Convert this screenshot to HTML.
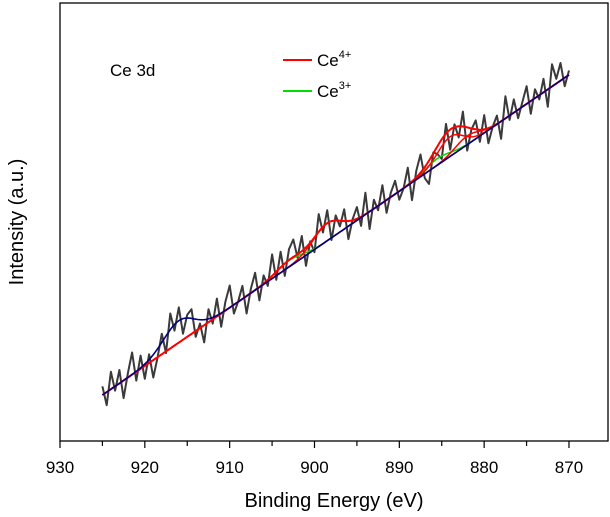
<!DOCTYPE html>
<html><head><meta charset="utf-8">
<style>
html,body{margin:0;padding:0;background:#fff;}
svg{display:block;font-family:"Liberation Sans",Arial,sans-serif;}
</style></head>
<body>
<svg id="chart" width="610" height="517" viewBox="0 0 610 517">
  <rect x="60" y="3" width="548" height="438" fill="none" stroke="#000" stroke-width="1.3"/>
  <g id="xticks"></g>
  <g id="series"></g>
  <text x="110" y="76" font-size="17">Ce 3d</text>
  <line x1="283" y1="60" x2="312" y2="60" stroke="#ff0000" stroke-width="2"/>
  <text x="317" y="66" font-size="17">Ce<tspan font-size="11" dy="-8">4+</tspan></text>
  <line x1="283" y1="91" x2="312" y2="91" stroke="#00dd00" stroke-width="2"/>
  <text x="317" y="97" font-size="17">Ce<tspan font-size="11" dy="-8">3+</tspan></text>
  <text x="334" y="507" font-size="20" text-anchor="middle">Binding Energy (eV)</text>
  <text transform="translate(23,222) rotate(-90)" font-size="20" text-anchor="middle">Intensity (a.u.)</text>
</svg>
<script>
const tickLabels = [930, 920, 910, 900, 890, 880, 870];
const rawStart = 925, rawStep = 0.5;
const rawValues = [12.5,8.2,15.8,11.5,16.2,9.8,15.5,20.2,13.8,19.5,14.2,19.8,14.5,19.1,24.5,20.1,29.1,25.2,30.5,24.5,28.8,30.1,23.8,26.8,22.5,30.1,26.8,32.5,26.1,31.8,35.5,29.1,31.8,35.4,29.1,34.8,38.4,32.1,37.8,35.4,42.6,36.8,43.2,37.7,43.8,46.0,41.9,46.8,40.0,45.6,43.1,51.8,47.6,52.7,45.9,51.5,49.0,52.9,46.1,50.7,53.4,49.1,56.7,48.4,55.1,52.7,58.4,52.1,56.7,59.4,55.1,57.7,62.4,55.0,61.7,65.4,60.0,58.7,65.9,65.5,64.4,72.4,66.5,72.3,69.3,75.2,66.3,71.1,73.2,68.3,74.4,68.0,71.7,74.3,69.0,78.7,73.3,78.0,73.7,77.3,81.0,74.7,80.3,78.0,82.7,76.3,86.0,82.7,86.3,81.0,84.6];
const bgEnergies = [925, 870];
const bgValues = [10.5, 83.6];
const ce3Centers = [916, 903, 885.5];
const ce3Heights = [5, 1.5, 1.5];
const ce3Widths = [1.8, 1.5, 1.5];
const ce4Centers = [898.5, 884, 882];
const ce4Heights = [4, 4.5, 2];
const ce4Widths = [1.6, 1.5, 1.4];

const X0=60, PX_PER_EV=8.483;
function xs(e){return X0+(930-e)*PX_PER_EV;}
function ys(v){return 441-v*4.38;}
function bg(e){return bgValues[0]+(bgValues[1]-bgValues[0])*(e-bgEnergies[0])/(bgEnergies[1]-bgEnergies[0]);}
function gauss(e,c,h,w){return h*Math.exp(-((e-c)*(e-c))/(2*w*w));}
const NS="http://www.w3.org/2000/svg";
const xt=document.getElementById('xticks');
for(let e=930;e>=865;e-=5){
  const l=document.createElementNS(NS,'line');
  l.setAttribute('x1',xs(e));l.setAttribute('x2',xs(e));
  l.setAttribute('y1',441);l.setAttribute('y2',e%10===0?448:446);
  l.setAttribute('stroke','#000');l.setAttribute('stroke-width','1.2');
  
  
  xt.appendChild(l);
}
tickLabels.forEach(t=>{
  const tx=document.createElementNS(NS,'text');
  tx.setAttribute('x',xs(t));tx.setAttribute('y',473);
  tx.setAttribute('font-size','17');tx.setAttribute('text-anchor','middle');
  tx.textContent=t;
  
  
  xt.appendChild(tx);
});
const sg=document.getElementById('series');
function addPath(d,color,w,name){
  const p=document.createElementNS(NS,'path');
  p.setAttribute('d',d);p.setAttribute('fill','none');
  p.setAttribute('stroke',color);p.setAttribute('stroke-width',w);
  p.setAttribute('stroke-linejoin','round');
  
  
  sg.appendChild(p);
}
let d='';
rawValues.forEach((v,i)=>{const e=rawStart-i*rawStep;d+=(i?'L':'M')+xs(e).toFixed(1)+','+ys(v).toFixed(1);});
addPath(d,'#3a3a3a',2,'raw-spectrum');
function curve(fn){let s='';for(let e=925;e>=870;e-=0.25){s+=(e===925?'M':'L')+xs(e).toFixed(1)+','+ys(fn(e)).toFixed(1);}return s;}
ce3Centers.forEach((c,i)=>{
  if(i===0)return;
  addPath(curve(e=>bg(e)+gauss(e,c,ce3Heights[i],ce3Widths[i])),'#00dd00',1.5,'ce3-component');
});
ce4Centers.forEach((c,i)=>{
  addPath(curve(e=>bg(e)+gauss(e,c,ce4Heights[i],ce4Widths[i])),'#ff0000',1.5,'ce4-component');
});
addPath(curve(e=>{let s=bg(e);ce4Centers.forEach((c,i)=>s+=gauss(e,c,ce4Heights[i],ce4Widths[i]));for(let i=1;i<ce3Centers.length;i++)s+=gauss(e,ce3Centers[i],ce3Heights[i],ce3Widths[i]);return s;}),'#ff0000',2,'ce4-envelope');
addPath(curve(e=>bg(e)+gauss(e,ce3Centers[0],ce3Heights[0],ce3Widths[0])),'#000080',1.6,'background-envelope');
</script>
</body></html>
